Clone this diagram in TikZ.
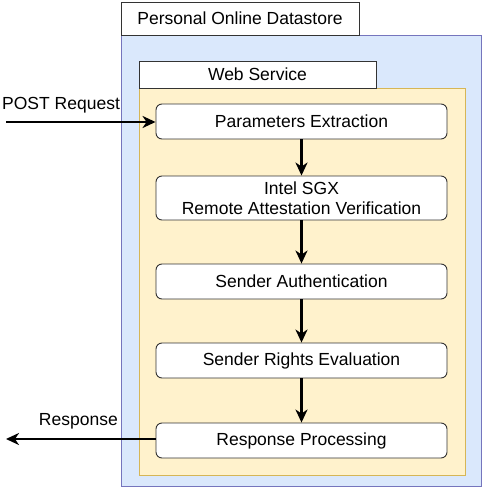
\documentclass[tikz,border=0pt]{standalone}
\usepackage{fontspec}
\setmainfont{Liberation Sans}
\usetikzlibrary{arrows.meta}
\begin{document}
\begin{tikzpicture}[x=1pt,y=-1pt,
  txt/.style={font=\fontsize{17.5}{21}\selectfont},
  lbl/.style={draw=black!80, line width=0.9pt, fill=white, inner sep=0pt, txt},
  stepbox/.style={draw=black!80, line width=0.9pt, fill=white, rounded corners=6pt, minimum width=291pt, inner sep=0pt, align=center, txt},
  flow/.style={line width=2.8pt, -{Stealth[length=13pt,width=12pt,inset=4pt]}}
]
\useasboundingbox (0,0) rectangle (484,489);
% outer container
\draw[draw=blue!35!gray!80, line width=0.9pt, fill={rgb,255:red,218;green,232;blue,252}] (121,35) rectangle (481,486);
\node[lbl, minimum width=238pt, minimum height=33pt] (pod) at (240,18.5) {Personal Online Datastore};
% web service
\draw[draw={rgb,255:red,214;green,182;blue,86}, line width=0.9pt, fill={rgb,255:red,255;green,242;blue,204}] (139,88) rectangle (465,475);
\node[lbl, minimum width=237pt, minimum height=27pt] (ws) at (257.5,74.5) {Web Service};
% steps
\node[stepbox, minimum height=35pt] (pe) at (301.5,121.5) {Parameters Extraction};
\node[stepbox, minimum height=44pt] (sgx) at (301.5,198) {Intel SGX\\[-1pt]Remote Attestation Verification};
\node[stepbox, minimum height=35pt] (sa) at (301.5,281.5) {Sender Authentication};
\node[stepbox, minimum height=35pt] (sre) at (301.5,360.5) {Sender Rights Evaluation};
\node[stepbox, minimum height=35pt] (rp) at (301.5,440.5) {Response Processing};
\draw[flow] (pe) -- (sgx);
\draw[flow] (sgx) -- (sa);
\draw[flow] (sa) -- (sre);
\draw[flow] (sre) -- (rp);
% external
\coordinate (in) at (6,122);
\coordinate (out) at (6,439);
\draw[flow] (in) -- (in -| pe.west);
\draw[flow] (rp.west |- out) -- (out);
\node[txt, anchor=west, inner sep=0pt] (postlbl) at (2,105) {POST Request};
\node[txt, anchor=east, inner sep=0pt] (resplbl) at (118,421) {Response};
\end{tikzpicture}
\end{document}
